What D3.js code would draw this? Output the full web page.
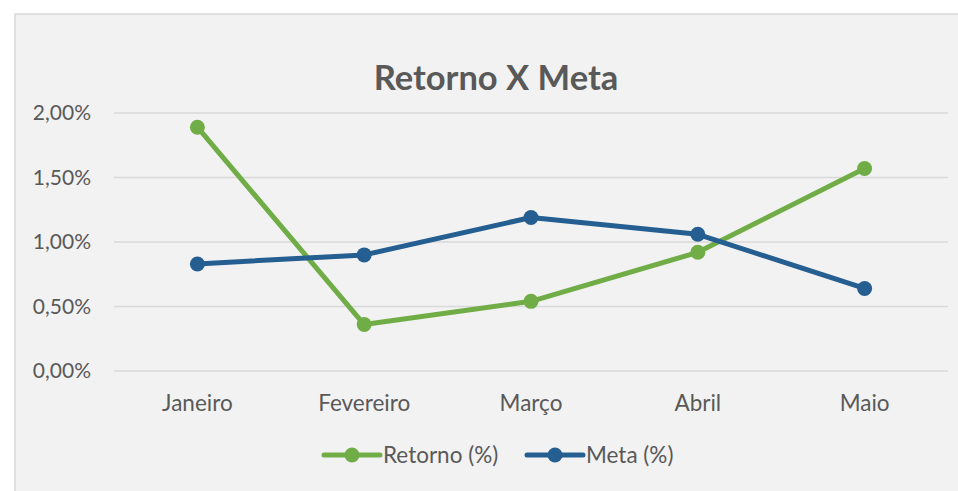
<!DOCTYPE html>
<html>
<head>
<meta charset="utf-8">
<script src="https://cdn.jsdelivr.net/npm/d3@7"></script>
<style>
  html, body { margin: 0; padding: 0; background: #ffffff; }
  svg { display: block; }
  text { font-family: Lato, "Open Sans", sans-serif; fill: #595959; }
</style>
</head>
<body>
<svg id="chart" width="958" height="491"></svg>
<script>
const title = "Retorno X Meta";
const categories = ["Janeiro", "Fevereiro", "Março", "Abril", "Maio"];
const retorno = [0.0189, 0.0036, 0.0054, 0.0092, 0.0157];
const meta = [0.0083, 0.0090, 0.0119, 0.0106, 0.0064];
const yTicks = [0, 0.005, 0.01, 0.015, 0.02];
const seriesNames = ["Retorno (%)", "Meta (%)"];
const seriesColors = ["#70ad47", "#255e91"];

const svg = d3.select("#chart");
const W = 958, H = 491;

// panel
svg.append("rect").attr("x", 15).attr("y", 14).attr("width", W - 15 + 2).attr("height", H - 14 + 2)
  .attr("fill", "#f2f2f2").attr("stroke", "#d9d9d9").attr("stroke-width", 1.5);

const plot = { left: 114, right: 948, top: 113, bottom: 371 };

const x = d3.scaleBand().domain(categories).range([plot.left, plot.right]).padding(0);
const y = d3.scaleLinear().domain([0, 0.02]).range([plot.bottom, plot.top]);
const fmt = v => d3.format(".2f")(v * 100).replace(".", ",") + "%";

// gridlines
svg.append("g").selectAll("line").data(yTicks).join("line")
  .attr("x1", plot.left).attr("x2", plot.right)
  .attr("y1", d => y(d)).attr("y2", d => y(d))
  .attr("stroke", "#d9d9d9").attr("stroke-width", 1.5);

// y axis labels
const yAxis = d3.axisLeft(y).tickValues(yTicks).tickFormat(fmt).tickSize(0).tickPadding(23);
const yg = svg.append("g").attr("transform", `translate(${plot.left},0)`).call(yAxis);
yg.select(".domain").remove();
yg.selectAll("text").style("font-size", "21px").attr("fill", "#595959")
  .style("font-family", "Lato, 'Open Sans', sans-serif");

// x axis labels
const xAxis = d3.axisBottom(x).tickSize(0).tickPadding(24);
const xg = svg.append("g").attr("transform", `translate(0,${plot.bottom})`).call(xAxis);
xg.select(".domain").remove();
xg.selectAll("text").style("font-size", "22.5px").attr("fill", "#595959")
  .style("font-family", "Lato, 'Open Sans', sans-serif");

// title
svg.append("text").attr("x", 496).attr("y", 90).attr("text-anchor", "middle")
  .style("font-size", "34.5px").style("font-weight", "bold").text(title);

// lines
const cx = c => x(c) + x.bandwidth() / 2;
const line = d3.line().x((d, i) => cx(categories[i])).y(d => y(d));
[retorno, meta].forEach((data, k) => {
  svg.append("path").datum(data).attr("d", line).attr("fill", "none")
    .attr("stroke", seriesColors[k]).attr("stroke-width", 5).attr("stroke-linejoin", "round");
  svg.append("g").selectAll("circle").data(data).join("circle")
    .attr("cx", (d, i) => cx(categories[i])).attr("cy", d => y(d)).attr("r", 7.5)
    .attr("fill", seriesColors[k]);
});

// legend
const legendY = 455;
const legendX = [324, 527];
seriesNames.forEach((name, k) => {
  const g = svg.append("g").attr("transform", `translate(${legendX[k]},${legendY})`);
  g.append("line").attr("x1", 0).attr("x2", 56).attr("y1", 0).attr("y2", 0)
    .attr("stroke", seriesColors[k]).attr("stroke-width", 5).attr("stroke-linecap", "round");
  g.append("circle").attr("cx", 28).attr("cy", 0).attr("r", 7.5).attr("fill", seriesColors[k]);
  g.append("text").attr("x", 59).attr("y", 0).attr("dy", "0.35em")
    .style("font-size", "22.5px").text(name);
});
</script>
</body>
</html>
